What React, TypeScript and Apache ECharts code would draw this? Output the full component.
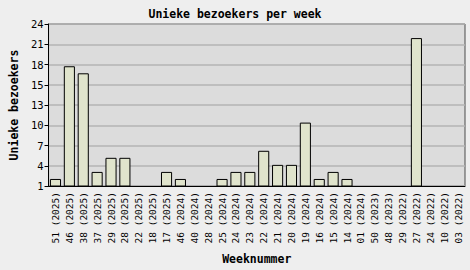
import React, { useEffect, useRef } from "react";
import * as echarts from "echarts";

const weeks = [
  "51 (2025)", "46 (2025)", "38 (2025)", "37 (2025)", "29 (2025)", "28 (2025)",
  "22 (2025)", "18 (2025)", "17 (2025)", "46 (2024)", "40 (2024)", "28 (2024)",
  "25 (2024)", "24 (2024)", "23 (2024)", "22 (2024)", "21 (2024)", "20 (2024)",
  "19 (2024)", "16 (2024)", "15 (2024)", "14 (2024)", "01 (2024)", "50 (2023)",
  "48 (2023)", "29 (2022)", "27 (2022)", "24 (2022)", "10 (2022)", "03 (2022)",
];
const visitors = [
  2, 18, 17, 3, 5, 5,
  1, 1, 3, 2, 1, 1,
  2, 3, 3, 6, 4, 4,
  10, 2, 3, 2, 1, 1,
  1, 1, 22, 1, 1, 1,
];
const yMin = 1;
const yMax = 24;
const ySteps = 8;

const FONT = "'DejaVu Sans Mono', 'Liberation Mono', monospace";

export default function App() {
  const ref = useRef<HTMLDivElement>(null);
  useEffect(() => {
    if (!ref.current) return;
    const chart = echarts.init(ref.current, null, { renderer: "svg" });
    const span = yMax - yMin;
    chart.setOption({
      animation: false,
      backgroundColor: "#eeeeee",
      title: {
        text: "Unieke bezoekers per week",
        left: "center",
        top: 3,
        textStyle: { fontFamily: FONT, fontSize: 11.5, fontWeight: "bold", color: "#000" },
      },
      grid: {
        left: 42,
        right: 5,
        top: 24,
        bottom: 84,
        show: true,
        backgroundColor: "#dcdcdc",
        borderColor: "#4a4a4a",
        borderWidth: 1,
      },
      xAxis: {
        type: "category",
        data: weeks,
        boundaryGap: true,
        name: "Weeknummer",
        nameLocation: "middle",
        nameGap: 67,
        nameTextStyle: { fontFamily: FONT, fontSize: 11.5, fontWeight: "bold", color: "#000" },
        axisLine: { lineStyle: { color: "#000", width: 1 } },
        axisTick: { alignWithLabel: true, interval: 0, length: 4, lineStyle: { color: "#000" } },
        axisLabel: {
          interval: 0,
          rotate: 90,
          margin: 6,
          fontFamily: FONT,
          fontSize: 9.5,
          color: "#000",
        },
      },
      yAxis: [
        {
          type: "value",
          position: "left",
          min: 0,
          max: span,
          interval: span / ySteps,
          name: "Unieke bezoekers",
          nameLocation: "middle",
          nameGap: 24,
          nameTextStyle: { fontFamily: FONT, fontSize: 11.5, fontWeight: "bold", color: "#000" },
          axisLine: { show: true, lineStyle: { color: "#000", width: 1 } },
          axisTick: { show: true, length: 4, lineStyle: { color: "#000" } },
          axisLabel: {
            margin: 5,
            fontFamily: FONT,
            fontSize: 10.5,
            color: "#000",
            formatter: (v: number) => String(Math.round(v + yMin)),
          },
          splitLine: { show: true, lineStyle: { color: "#b4b4b4", width: 1.5 } },
        },
        {
          type: "value",
          position: "right",
          min: yMin,
          max: yMax,
          show: false,
          splitLine: { show: false },
        },
      ],
      series: [
        {
          type: "bar",
          yAxisIndex: 1,
          data: visitors,
          barWidth: "80%",
          clip: true,
          itemStyle: { color: "#e0e4cc", borderColor: "#000", borderWidth: 1 },
        },
      ],
    });
    return () => chart.dispose();
  }, []);
  return (
    <div
      ref={ref}
      style={{ position: "fixed", left: 0, top: 0, width: 470, height: 270 }}
    />
  );
}
